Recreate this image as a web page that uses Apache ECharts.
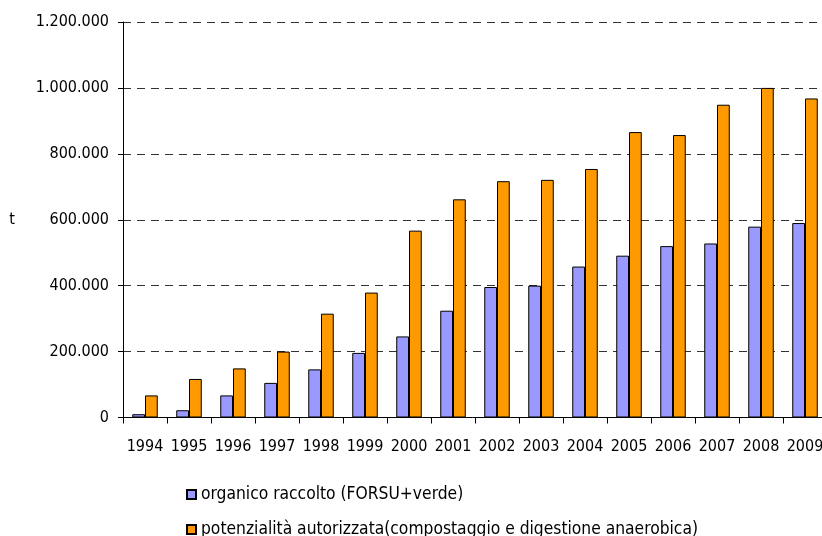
<!DOCTYPE html>
<html>
<head>
<meta charset="utf-8">
<script src="https://cdn.jsdelivr.net/npm/echarts@6/dist/echarts.min.js"></script>
<style>
  html, body { margin: 0; padding: 0; background: #fff; }
  #chart { width: 822px; height: 536px; }
</style>
</head>
<body>
<div id="chart"></div>
<script>
// Years on the category axis
const years = ['1994','1995','1996','1997','1998','1999','2000','2001','2002','2003','2004','2005','2006','2007','2008','2009'];

// Organic waste collected (tonnes)
const organicoRaccolto = [10000, 22000, 67000, 105000, 146000, 196000, 246000, 324000, 396000, 400000, 458000, 491000, 520000, 528000, 579000, 590000];

// Authorised plant capacity (tonnes)
const potenzialitaAutorizzata = [67000, 117000, 149000, 200000, 315000, 379000, 567000, 662000, 717000, 721000, 754000, 866000, 857000, 949000, 1000000, 968000];

const seriesNames = ['organico raccolto (FORSU+verde)', 'potenzialità autorizzata(compostaggio e digestione anaerobica)'];

const yTicks = { min: 0, max: 1200000, interval: 200000 };

const FONT = '"DejaVu Sans Condensed", "DejaVu Sans", sans-serif';

function fmtThousands(v) {
  return String(v).replace(/\B(?=(\d{3})+(?!\d))/g, '.');
}

// One legend block per series, stacked as two rows
function legendRow(name, top) {
  return {
    orient: 'horizontal',
    left: 181,
    top: top,
    itemWidth: 9,
    itemHeight: 9,
    itemGap: 10,
    icon: 'rect',
    textStyle: { fontFamily: FONT, fontSize: 17.3, color: '#000' },
    data: [name]
  };
}

const chart = echarts.init(document.getElementById('chart'), null, { renderer: 'canvas' });

chart.setOption({
  animation: false,
  backgroundColor: '#ffffff',
  textStyle: { fontFamily: FONT, color: '#000' },
  grid: { left: 123, top: 22, width: 704, bottom: 118.5, containLabel: false, outerBoundsMode: 'none' },
  legend: [legendRow(seriesNames[0], 481), legendRow(seriesNames[1], 516)],
  xAxis: {
    type: 'category',
    data: years,
    axisLine: { lineStyle: { color: '#000', width: 1 } },
    axisTick: { show: true, length: 6, lineStyle: { color: '#000' } },
    axisLabel: { fontFamily: FONT, fontSize: 16, color: '#000', margin: 21, interval: 0 }
  },
  yAxis: {
    type: 'value',
    min: yTicks.min,
    max: yTicks.max,
    interval: yTicks.interval,
    name: 't',
    nameLocation: 'middle',
    nameRotate: 0,
    nameGap: 108,
    nameTextStyle: { fontFamily: FONT, fontSize: 16, color: '#000', padding: [0, 0, 8, 0] },
    axisLine: { show: true, lineStyle: { color: '#000', width: 1 } },
    axisTick: { show: true, inside: false, length: 5, lineStyle: { color: '#000' } },
    axisLabel: { fontFamily: FONT, fontSize: 16, color: '#000', margin: 14, formatter: fmtThousands },
    splitLine: { show: true, lineStyle: { color: '#333', type: [8, 6], width: 1 } }
  },
  series: [
    {
      name: seriesNames[0],
      type: 'bar',
      data: organicoRaccolto,
      barGap: '0%',
      barCategoryGap: '42%',
      itemStyle: { color: '#9999FF', borderColor: '#000', borderWidth: 1 }
    },
    {
      name: seriesNames[1],
      type: 'bar',
      data: potenzialitaAutorizzata,
      barGap: '0%',
      barCategoryGap: '42%',
      itemStyle: { color: '#FF9900', borderColor: '#000', borderWidth: 1 }
    }
  ]
});
</script>
</body>
</html>
